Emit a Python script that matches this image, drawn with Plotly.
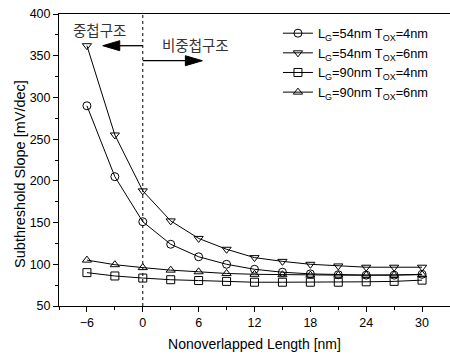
import plotly.graph_objects as go

x_nm = [-6, -3, 0, 3, 6, 9, 12, 15, 18, 21, 24, 27, 30]
lg54_tox4 = [290, 205, 151, 124, 109, 100, 94, 90.5, 88.5, 87.5, 87, 87, 88]
lg54_tox6 = [362, 255, 188, 152, 131, 118, 108, 103.5, 100, 98, 96.5, 96.5, 96.5]
lg90_tox4 = [90, 86, 83.5, 81.5, 80.5, 79.5, 78.5, 78.5, 78.5, 78.5, 79, 79.5, 81]
lg90_tox6 = [105, 99.5, 96, 93, 91, 89, 88, 87.5, 87, 87, 87, 87, 87.5]
names = ["L<sub>G</sub>=54nm T<sub>OX</sub>=4nm", "L<sub>G</sub>=54nm T<sub>OX</sub>=6nm",
         "L<sub>G</sub>=90nm T<sub>OX</sub>=4nm", "L<sub>G</sub>=90nm T<sub>OX</sub>=6nm"]
symbols = ["circle-open", "triangle-down-open", "square-open", "triangle-up-open"]
series = [lg54_tox4, lg54_tox6, lg90_tox4, lg90_tox6]

fig = go.Figure()
for ys, nm, sym in zip(series, names, symbols):
    fig.add_trace(go.Scatter(x=x_nm, y=ys, name=nm, mode="lines+markers",
                             line=dict(color="black", width=1),
                             marker=dict(symbol=sym, size=8, color="black", line=dict(width=1, color="black"))))

font = "Liberation Sans, Arial, sans-serif"
kfont = "Noto Sans CJK KR, sans-serif"

# dotted boundary line
fig.add_shape(type="line", x0=0, x1=0, y0=50, y1=400, line=dict(color="black", width=1, dash="dot"))
# left arrow
fig.add_shape(type="line", x0=0, x1=-3.0, y0=362, y1=362, line=dict(color="black", width=1.3))
fig.add_shape(type="path", xsizemode="pixel", ysizemode="pixel", xanchor=-4.3, yanchor=362,
              path="M0,0 L17,5 L17,-5 Z", fillcolor="black", line=dict(color="black", width=1))
# right arrow
fig.add_shape(type="line", x0=0, x1=5.0, y0=344, y1=344, line=dict(color="black", width=1.3))
fig.add_shape(type="path", xsizemode="pixel", ysizemode="pixel", xanchor=6.4, yanchor=344,
              path="M0,0 L-17,5 L-17,-5 Z", fillcolor="black", line=dict(color="black", width=1))

fig.add_annotation(x=-4.6, y=381, text="중첩구조", showarrow=False, font=dict(family=kfont, size=14.5, color="#333"))
fig.add_annotation(x=5.7, y=364, text="비중첩구조", showarrow=False, font=dict(family=kfont, size=14.5, color="#333"))
# y axis title
fig.add_annotation(xref="paper", yref="paper", x=-0.1, y=0.452, xanchor="center", yanchor="middle",
                   text="Subthreshold Slope [mV/dec]",
                   textangle=-90, showarrow=False, font=dict(family=font, size=14.5, color="black"))

fig.update_layout(
    width=450, height=354,
    margin=dict(l=59, r=0, t=14, b=48),
    paper_bgcolor="white", plot_bgcolor="white",
    font=dict(family=font, size=12, color="black"),
    showlegend=True,
    legend=dict(x=0.56, y=0.985, xanchor="left", yanchor="top", bgcolor="rgba(0,0,0,0)",
                font=dict(family=font, size=12.8), tracegroupgap=0, itemwidth=30),
    xaxis=dict(range=[-9, 33], tickvals=[-6, 0, 6, 12, 18, 24, 30], showline=True, linecolor="black",
               linewidth=1, mirror=True, ticks="outside", ticklen=5, tickcolor="black", showgrid=False,
               zeroline=False, minor=dict(dtick=3, tick0=0, ticks="outside", ticklen=3, tickcolor="black"),
               title=dict(text="Nonoverlapped Length [nm]", font=dict(size=14), standoff=10),
               tickfont=dict(size=12.5)),
    yaxis=dict(range=[50, 400], dtick=50, showline=True, linecolor="black", linewidth=1,
               ticks="outside", ticklen=5, tickcolor="black", showgrid=False, zeroline=False,
               minor=dict(dtick=25, ticks="outside", ticklen=3, tickcolor="black"),
               tickfont=dict(size=12.5)),
)

fig.write_html("out.html", config={"displayModeBar": False},
               post_script="document.body.style.margin='0';")
